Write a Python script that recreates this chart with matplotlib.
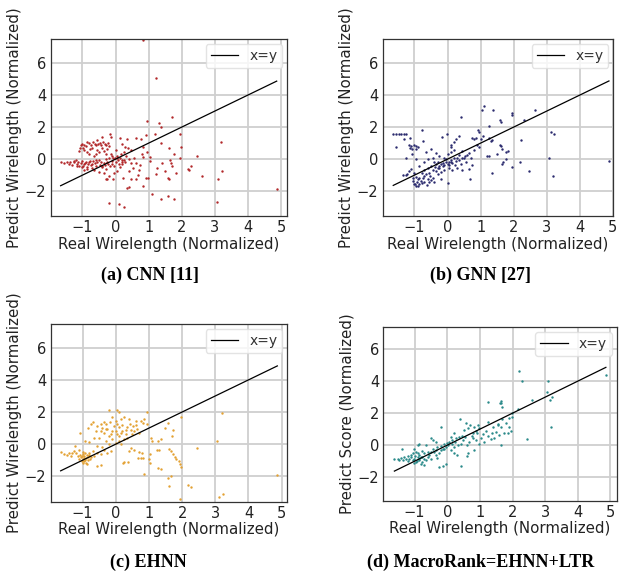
import matplotlib
matplotlib.use("Agg")
import matplotlib.pyplot as plt
import numpy as np

# ---- data (real, predicted) ----
cnn_pts = [
    (0.84, 7.42), (1.23, 5.08), (0.95, 2.35), (1.31, 2.27), (1.70, 2.62), (1.36, 1.98), (1.20, 1.56),
    (0.93, 1.48), (1.94, 1.58), (3.19, 1.08), (1.38, 0.98), (1.62, 0.67), (1.98, 0.73), (1.78, 0.31),
    (1.64, -0.06), (1.94, 0.08), (2.45, 0.19), (2.28, -0.44), (2.21, -0.67), (2.19, -0.60), (3.22, -0.75),
    (2.62, -1.04), (3.11, -1.25), (1.84, -0.88), (1.61, -1.25), (1.59, -1.15), (1.49, -0.75), (1.24, -0.58),
    (1.23, -0.94), (1.41, -0.23), (1.68, -0.27), (1.71, -0.42), (1.03, -0.10), (1.05, 0.15), (0.81, 0.31),
    (0.82, 0.15), (0.94, 0.42), (0.99, -1.19), (0.91, -1.19), (0.84, -1.67), (1.10, -2.19), (1.38, -2.46),
    (1.59, -2.29), (1.76, -2.52), (3.06, -2.67), (4.87, -1.88), (-0.21, -2.75), (0.09, -2.79), (0.26, -3.00),
    (0.40, -1.73), (0.36, -1.81), (0.24, -1.17), (0.46, -1.25), (0.62, -1.21), (0.67, -1.02), (0.71, -0.65),
    (0.75, -0.38), (0.63, -0.25), (0.53, -0.54), (0.42, -0.75), (0.48, -0.25), (0.41, 0.00), (0.33, 0.17),
    (0.47, 0.54), (0.38, 0.67), (0.35, 1.25), (0.12, 1.29), (0.01, 0.56), (0.18, 0.94), (0.62, 1.29),
    (0.78, 1.23), (0.84, 0.77), (0.21, -0.33), (0.13, -0.50), (0.05, -0.75), (-0.04, -0.88), (-0.27, -1.25),
    (-0.09, -1.21),
    (-1.05, 0.87), (-0.95, 0.87), (-0.87, 1.04), (-0.80, 1.00), (-0.73, 0.87), (-0.67, 1.04), (-0.59, 0.87),
    (-0.53, 0.96), (-0.45, 0.87), (-0.37, 1.04), (-0.30, 0.87), (-0.23, 1.00), (-0.17, 1.56), (-0.15, 1.41),
    (-0.42, 1.37), (-0.55, 1.19), (-1.00, 0.95), (-0.90, 0.80), (-0.62, 0.92), (-0.48, 1.02), (-0.33, 0.92),
    (-0.20, 0.85),
    (-1.10, 0.52), (-0.95, 0.58), (-0.80, 0.31), (-0.70, 0.67), (-0.65, 0.21), (-0.50, 0.42), (-0.35, 0.52),
    (-0.25, 0.62), (-0.85, 0.45), (-0.60, 0.30),
    (-1.66, -0.21), (-1.56, -0.25), (-1.46, -0.21), (-1.38, -0.17), (-1.31, -0.37), (-1.26, -0.21),
    (-1.17, -0.31), (-1.10, -0.42), (-1.05, -0.25), (-1.00, -0.52), (-0.95, -0.31), (-0.87, -0.46),
    (-0.80, -0.21), (-0.75, -0.37), (-0.67, -0.10), (-0.60, -0.42), (-0.55, -0.21), (-0.47, -0.37),
    (-0.40, -0.52), (-0.35, -0.25), (-0.30, 0.00), (-0.25, -0.17), (-0.17, -0.42), (-0.10, -0.31),
    (-1.20, -0.05), (-1.00, -0.10), (-0.90, -0.15), (-0.70, -0.55), (-0.50, -0.05), (-0.30, -0.60),
    (-1.40, -0.30), (-0.85, -0.60), (-1.15, -0.45),
    (-0.95, -0.67), (-0.65, -0.69), (-0.50, -0.83), (-0.35, -0.88), (-0.20, -1.04), (-0.28, -1.25),
    (-0.15, 0.31), (-0.10, 0.17), (-0.03, 0.04), (0.03, 0.21), (0.08, -0.04), (0.15, 0.31), (0.20, -0.17),
    (0.27, -0.04), (0.10, -0.31), (0.00, -0.21), (-0.05, -0.45), (0.25, 0.45), (-0.20, 0.10),
    (-1.25, -0.10), (-1.12, -0.18), (-0.98, -0.40), (-0.92, -0.25), (-0.82, -0.32), (-0.77, -0.10),
    (-0.72, -0.28), (-0.63, -0.25), (-0.58, -0.05), (-0.45, -0.20), (-0.42, -0.45), (-0.32, -0.38),
    (-0.22, -0.30), (-0.12, -0.10), (-0.07, 0.05), (0.05, 0.05), (0.12, 0.10), (0.18, -0.08),
    (-1.08, 0.70), (-0.98, 0.72), (-0.78, 0.62), (-0.57, 0.60), (-0.40, 0.72), (-0.28, 0.35),
    (0.30, -0.20), (0.55, 0.05), (0.28, 0.75),
]

gnn_pts = [
    (4.88, -0.10), (1.11, 3.33), (1.04, 3.08), (1.39, 3.08), (0.40, 2.62), (1.95, 2.87), (1.95, 2.74),
    (2.63, 3.08), (2.30, 2.43), (1.59, 2.43), (1.61, 2.29), (1.24, 2.08), (3.12, 1.70), (3.23, 1.60),
    (2.21, 1.21), (3.07, 0.10), (3.20, -1.08), (2.45, -0.75), (1.95, -0.48), (2.19, -0.15), (1.66, -0.31),
    (1.68, -0.21), (1.76, 0.00), (1.78, 0.42), (1.66, 0.62), (1.61, 0.79), (1.59, 0.87), (1.84, 0.52),
    (1.49, 0.31), (1.36, 1.21), (1.31, 1.12), (1.26, 1.29), (1.20, 0.21), (1.24, 0.17), (1.36, -0.87),
    (0.67, -1.25), (0.02, -1.46), (-0.19, -1.25), (0.91, 1.83), (0.96, 1.70), (0.86, 1.33), (1.06, 1.46),
    (0.75, 1.35), (0.81, 1.25), (0.89, 0.87), (0.94, 0.73), (1.01, 1.25), (0.70, 0.10), (0.73, -0.37),
    (0.65, -0.62), (0.53, 0.21), (0.45, 0.52), (0.35, 1.46), (0.27, 1.25), (0.20, 1.08), (0.12, 0.87),
    (-0.02, 1.56), (-0.17, 1.37), (0.10, 0.42), (-0.78, 1.83), (-0.75, 1.14), (-1.12, 1.35), (-1.30, 1.25),
    (-1.56, 0.73),
    (-1.64, 1.58), (-1.56, 1.58), (-1.48, 1.58), (-1.40, 1.58), (-1.32, 1.58), (-1.24, 1.58),
    (-1.16, 0.87), (-1.10, 0.79), (-1.02, 0.87), (-0.94, 0.79), (-1.14, 0.71), (-1.06, 0.66), (-0.96, 0.62),
    (-0.88, 0.77), (-1.24, 0.10), (-1.06, 0.31), (-0.96, 0.00), (-1.21, -0.94), (-1.36, -1.00),
    (-1.10, -0.60), (-1.00, -0.85), (-0.95, -1.10), (-0.90, -1.25), (-0.92, -1.45), (-0.85, -1.55),
    (-0.88, -1.65), (-0.98, -1.55), (-1.05, -1.35), (-0.80, -1.35), (-0.75, -1.20), (-0.70, -1.45),
    (-0.60, -1.25), (-0.55, -1.45), (-0.50, -1.30), (-0.45, -1.15), (-0.40, -1.40), (-0.65, -0.95),
    (-0.55, -0.85), (-0.45, -0.70), (-0.35, -0.75), (-0.30, -0.55), (-0.25, -0.40), (-0.20, -0.30),
    (-0.15, -0.25), (-0.10, -0.35), (-0.05, -0.20), (0.00, -0.30), (0.05, -0.15), (0.10, -0.05),
    (0.15, -0.25), (0.20, 0.05), (0.25, -0.10), (0.30, 0.10), (0.35, -0.05), (-0.35, -0.30), (-0.40, -0.15),
    (-0.50, -0.40), (-0.60, -0.55), (-0.70, -0.70), (-0.78, -0.85), (-0.85, -0.45), (-0.30, -0.95),
    (-0.20, -0.80), (-0.10, -0.65), (0.05, -0.55), (0.15, -0.70), (0.30, -0.55), (0.40, -0.30),
    (0.45, -0.65), (0.50, 0.05), (0.55, -0.20), (0.60, 0.25), (-0.45, 0.10), (-0.25, 0.20), (-0.10, 0.10),
    (0.00, 0.35), (-0.60, 0.00), (-0.70, -0.20), (-1.25, -1.00), (-1.15, -0.75), (-0.65, 0.45),
    (-0.35, 0.40), (-0.50, 0.65), (-1.00, -1.55), (0.20, 0.55), (0.10, 0.75),
    (-0.25, -0.55), (-0.15, -0.45), (0.05, -0.35), (0.12, -0.20), (-0.05, 0.00), (0.22, -0.35),
    (-0.30, -0.20), (-0.38, -0.50), (0.45, 0.10), (0.65, 0.40), (0.80, 0.55), (0.35, 0.25),
    (-0.85, -1.20), (-0.78, -1.50), (-0.62, -1.60), (-0.95, -1.70), (-0.72, -1.05), (-0.52, -1.05),
    (-1.05, -1.15),
]

ehnn_pts = [
    (4.87, -1.93), (3.19, 1.97), (3.06, 0.19), (2.45, -0.25), (1.98, 1.70), (0.95, 1.99), (1.94, -3.42),
    (3.22, -3.11), (3.11, -3.31), (2.19, -2.55), (2.28, -2.69), (1.59, -2.11), (1.61, -2.61), (1.66, -1.97),
    (1.94, -1.24), (1.96, -1.45), (1.91, -1.04), (1.81, -0.93), (1.78, -0.79), (1.74, -0.62), (1.66, -0.41),
    (1.61, -0.31), (1.71, 0.52), (1.74, 0.87), (1.59, 1.33), (1.49, 0.99), (1.36, 0.31), (1.26, 0.21),
    (1.24, -0.37), (1.31, -0.35), (1.05, 0.41), (1.10, 0.21), (1.03, -0.62), (1.01, -0.93), (1.03, -1.20),
    (1.26, -1.49), (1.36, -1.57), (0.84, -1.86), (0.67, -0.87), (0.75, -0.87), (0.83, -0.87), (0.80, -0.52),
    (0.70, -0.46), (0.55, -0.37), (0.45, -0.25), (0.41, -0.41), (0.38, -1.14), (0.25, -1.08), (0.23, -1.20),
    (-0.45, -1.30), (-0.57, -1.35), (0.93, 1.24), (0.83, 1.33), (0.85, 1.55), (0.75, 1.45), (0.60, 1.45),
    (0.65, 0.93), (0.55, 0.83), (0.45, 0.87), (0.53, 1.14), (0.43, 1.24), (0.40, 1.55), (0.30, 0.62),
    (0.20, 0.83), (0.15, 0.72), (0.10, 0.52), (0.35, 0.37), (-0.20, 2.11), (0.05, 2.11), (0.10, 2.03),
    (-0.10, 1.66), (0.00, 1.45), (0.15, 1.55), (0.25, 1.66), (0.05, 1.24), (-0.17, 1.35), (-0.30, 1.24),
    (-0.45, 1.24), (-0.35, 1.35), (-0.55, 1.14), (-0.75, 1.28), (-0.70, 1.39), (-0.85, 0.99), (-1.07, 0.72),
    (-0.93, 0.17), (-0.80, 0.14), (-0.65, 0.37), (-0.50, 0.41), (-0.45, 0.83), (-0.35, 0.72), (-0.25, 0.93),
    (-0.15, 0.62), (-0.10, 0.83), (0.00, 0.83), (0.10, 1.04), (-0.30, 0.21), (-0.20, 0.00), (-0.10, 0.31),
    (0.00, 0.10), (0.10, 0.21), (0.15, 0.00), (0.25, 0.31), (-0.15, -0.41), (-0.25, -0.52), (-0.35, -0.37),
    (-0.45, -0.62), (-0.55, -0.52), (-0.65, -0.72), (-0.75, -0.83), (-0.70, -0.41),
    (-1.00, -0.60), (-0.95, -0.75), (-0.90, -0.85), (-1.00, -0.95), (-0.95, -1.05), (-0.90, -1.15),
    (-1.00, -1.20), (-0.85, -1.00), (-0.88, -0.70), (-1.05, -0.80), (-1.10, -0.90), (-0.92, -0.55),
    (-0.82, -0.65), (-0.78, -0.90), (-1.08, -0.65), (-0.97, -0.88), (-0.93, -0.98), (-1.02, -0.72),
    (-1.66, -0.48), (-1.56, -0.62), (-1.46, -0.66), (-1.41, -0.58), (-1.31, -0.52), (-1.26, -0.41),
    (-1.21, -0.58), (-1.15, -0.72), (-1.34, -0.72), (-1.10, -0.37), (-1.24, -0.12),
    (0.20, 1.20), (0.35, 1.05), (-0.05, 1.10), (-0.30, 0.95), (-0.20, 0.50), (0.05, 0.65), (0.30, 0.90),
    (0.50, 0.65), (-0.60, 0.85), (-0.40, 1.00), (-0.55, -0.10), (-0.40, -0.20), (-0.80, -0.55),
    (-0.98, -0.50), (-1.03, -1.05), (-0.87, -1.22), (-0.84, -0.80), (0.70, 0.70), (0.60, 1.20),
]

macrorank_pts = [
    (4.86, 4.40), (2.20, 4.65), (2.29, 3.98), (3.09, 4.03), (3.05, 3.35), (3.22, 3.00), (3.15, 2.79),
    (3.19, 1.15), (2.45, 0.36), (2.61, 2.83), (1.66, 2.73), (1.61, 2.62), (1.69, 2.41), (1.64, 2.66),
    (1.24, 2.68), (2.18, 2.24), (1.98, 2.03), (1.98, 1.78), (1.90, 1.68), (1.69, 1.61), (1.57, 1.32),
    (1.54, 1.24), (1.64, 1.15), (1.79, 1.36), (1.90, 1.15), (1.95, 0.90), (1.85, 0.78), (1.74, 0.73),
    (1.66, 0.00), (1.24, 1.47), (1.39, 1.15), (1.49, 0.84), (1.37, 0.78), (1.34, 0.36), (1.44, 0.42),
    (1.59, 0.63), (0.40, 1.66), (-0.18, 1.15), (0.57, 1.36), (0.69, 1.26), (0.83, 1.15), (0.93, 1.24),
    (0.98, 1.05), (0.88, 0.90), (0.78, 0.78), (0.65, 1.05), (0.52, 0.94), (1.08, 0.69), (1.03, 0.42),
    (1.13, 0.21), (0.98, 0.10), (0.88, 0.31), (0.78, 0.42), (0.67, 0.21), (0.62, 0.00), (0.83, -0.31),
    (0.65, -0.52), (0.62, -0.69), (0.43, -1.32), (-0.04, -1.15), (-0.14, -1.32), (-0.24, -1.36),
    (0.21, 0.73), (0.11, 0.52), (0.16, 0.31), (0.27, 0.42), (0.37, 0.52), (0.47, 0.31), (0.42, 0.10),
    (0.32, 0.00), (0.21, -0.10), (0.06, 0.21), (0.01, 0.00), (-0.04, -0.10), (-0.09, 0.10), (-0.14, -0.21),
    (-0.19, -0.31), (0.11, -0.31), (0.21, -0.48), (0.29, -0.63), (-0.30, -0.10), (-0.35, -0.31),
    (-0.45, -0.21), (-0.50, -0.42), (-0.55, -0.63), (-0.60, -0.73), (-0.70, -0.52), (-0.76, -0.73),
    (-0.65, -0.94), (-0.50, -0.84), (-0.35, -0.63), (-0.24, -0.52), (-0.50, 0.42), (-0.45, 0.31),
    (-0.35, 0.21), (-0.65, 0.00), (-0.86, 0.10), (-0.91, 0.00), (-1.40, -0.21), (-1.01, -0.21),
    (-0.96, -0.42), (-1.06, -0.52), (-1.11, -0.73), (-1.01, -0.84), (-0.91, -0.73), (-0.86, -0.94),
    (-0.96, -1.05), (-1.06, -0.94), (-1.16, -0.84), (-1.21, -0.99), (-1.27, -0.84), (-1.32, -0.73),
    (-1.42, -0.80), (-1.52, -0.84), (-1.62, -0.88), (-1.37, -0.94), (-1.47, -0.90), (-0.81, -1.15),
    (-0.76, -1.05), (-0.70, -1.26), (-0.86, -0.63), (-0.78, -0.36), (-0.92, -1.00), (-1.02, -1.10),
    (-0.88, -0.85), (-0.98, -0.65),
    (-0.20, -0.05), (-0.10, -0.25), (0.00, 0.15), (0.15, 0.05), (0.25, 0.20), (-0.40, -0.45),
    (-0.60, -0.45), (-0.80, -0.75), (-0.90, -0.50), (-1.10, -0.60), (-1.20, -0.70), (-0.70, -0.85),
    (0.45, 0.60), (0.55, 0.50), (0.75, 0.60), (0.90, 0.75), (1.20, 0.90), (1.25, 0.60), (-0.30, -0.80),
]

panels = [
    # points, colour, ylabel, caption, axes rect, xlim, ylim
    (cnn_pts, "#b2282a", "Predict Wirelength (Normalized)", "(a) CNN [11]",
     [0.0819, 0.6237, 0.3822, 0.3078], (-1.96, 5.19), (-3.55, 7.48)),
    (gnn_pts, "#2b2b6e", "Predict Wirelength (Normalized)", "(b) GNN [27]",
     [0.6182, 0.6237, 0.3725, 0.3078], (-1.96, 5.01), (-3.55, 7.48)),
    (ehnn_pts, "#e3a133", "Predict Wirelength (Normalized)", "(c) EHNN",
     [0.0819, 0.1260, 0.3822, 0.3090], (-1.96, 5.17), (-3.58, 7.46)),
    (macrorank_pts, "#2a8a8a", "Predict Score (Normalized)", "(d) MacroRank=EHNN+LTR",
     [0.6192, 0.1274, 0.3770, 0.3026], (-1.96, 5.19), (-3.48, 7.37)),
]
caption_pos = [(0.242, 0.521), (0.776, 0.521), (0.240, 0.021), (0.776, 0.021)]

fig = plt.figure(figsize=(6.19, 5.74), dpi=100)

for (pts, col, ylab, cap, rect, xl, yl), (cx, cy) in zip(panels, caption_pos):
    ax = fig.add_axes(rect)
    arr = np.array(pts)
    real, pred = arr[:, 0], arr[:, 1]
    ax.grid(True, color="#cfcfcf", linewidth=1.3, zorder=0)
    ax.set_axisbelow(True)
    ax.scatter(real, pred, s=3, color=col, linewidths=0, zorder=2)
    ax.plot([real.min(), real.max()], [real.min(), real.max()], color="black",
            linewidth=0.9, label="x=y", zorder=3)
    ax.set_xlim(*xl)
    ax.set_ylim(*yl)
    ax.set_xticks([-1, 0, 1, 2, 3, 4, 5])
    ax.set_yticks([-2, 0, 2, 4, 6])
    ax.tick_params(labelsize=10.5, length=0, pad=3, colors="#222222")
    for sp in ax.spines.values():
        sp.set_color("#333333")
        sp.set_linewidth(0.9)
    ax.set_xlabel("Real Wirelength (Normalized)", fontsize=10.8, color="#222222", labelpad=1)
    ax.set_ylabel(ylab, fontsize=10.8, color="#222222", labelpad=2)
    leg = ax.legend(loc="upper right", fontsize=10, frameon=True, fancybox=True,
                    handlelength=2.0, borderpad=0.35, borderaxespad=0.35)
    leg.get_frame().set_edgecolor("#dddddd")
    for t in leg.get_texts():
        t.set_color("#333333")
    fig.text(cx, cy, cap, ha="center", va="center", fontsize=13,
             fontweight="bold", family="Liberation Serif")

fig.savefig("out.png", dpi=100)
